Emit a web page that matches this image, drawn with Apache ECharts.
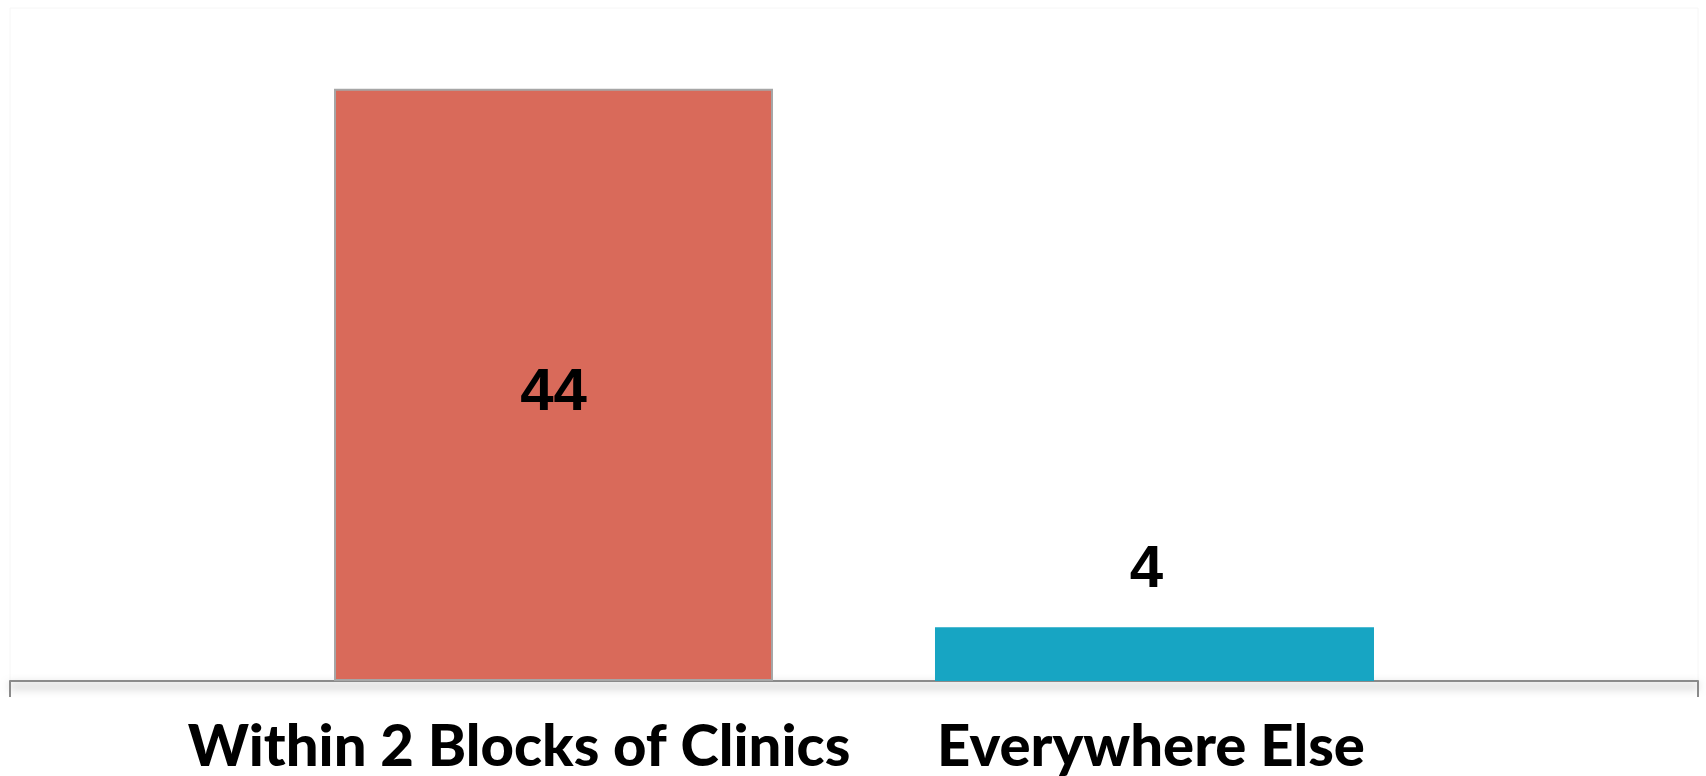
<!DOCTYPE html>
<html>
<head>
<meta charset="utf-8">
<script src="https://cdn.jsdelivr.net/npm/echarts@6/dist/echarts.min.js"></script>
<style>
html,body{margin:0;padding:0;background:#fff;}
#chart{width:1706px;height:776px;}
</style>
</head>
<body>
<div id="chart"></div>
<script>
const categories = ["Within 2 Blocks of Clinics", "Everywhere Else"];
const values = [44, 4];
const colors = ["#D96A5A", "#17A5C3"];
const yMax = 50;

const chart = echarts.init(document.getElementById('chart'));
const series = values.map((v, i) => ({
  name: categories[i],
  type: 'bar',
  xAxisIndex: 0,
  yAxisIndex: 0,
  data: [v],
  barWidth: 439,
  barGap: '36.9%',
  itemStyle: {
    color: colors[i],
    borderColor: i === 0 ? '#a6a6a6' : colors[i],
    borderWidth: i === 0 ? 2 : 0
  },
  label: {
    show: true,
    position: i === 0 ? 'inside' : 'top',
    distance: 27,
    offset: i === 0 ? [0, 9] : [-8, 0],
    color: '#000',
    fontFamily: 'Liberation Sans',
    fontWeight: 'bold',
    fontSize: 60
  },
  silent: true
}));

chart.setOption({
  animation: false,
  backgroundColor: '#fff',
  grid: [
    { left: 10, right: 8, top: 8, bottom: 95, show: true, borderColor: '#f6f6f6', borderWidth: 1, backgroundColor: 'transparent' },
    { left: 203, right: 239, top: 8, bottom: 95 }
  ],
  xAxis: [
    {
      type: 'category', gridIndex: 0, data: ['all'],
      axisLine: { show: true, lineStyle: { color: '#8a8a8a', width: 2, shadowColor: 'rgba(0,0,0,0.55)', shadowBlur: 10, shadowOffsetY: 5 } },
      axisTick: { show: true, length: 16, lineStyle: { color: '#8a8a8a', width: 2 } },
      axisLabel: { show: false }
    },
    {
      type: 'category', gridIndex: 1, data: categories, position: 'bottom',
      axisLine: { show: false }, axisTick: { show: false },
      axisLabel: { show: true, interval: 0, hideOverlap: false, margin: 38, color: '#000', fontFamily: 'Lato', fontWeight: 900, fontSize: 58 }
    }
  ],
  yAxis: [
    { type: 'value', gridIndex: 0, min: 0, max: yMax, show: false, splitLine: { show: false } },
    { type: 'value', gridIndex: 1, min: 0, max: yMax, show: false, splitLine: { show: false } }
  ],
  series: series
});
</script>
</body>
</html>
